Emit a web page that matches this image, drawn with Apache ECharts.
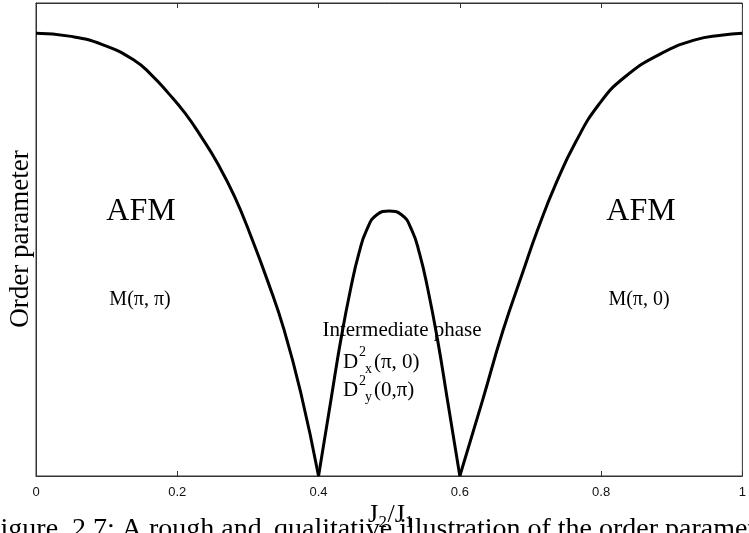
<!DOCTYPE html>
<html>
<head>
<meta charset="utf-8">
<script src="https://cdn.jsdelivr.net/npm/echarts@6/dist/echarts.min.js"></script>
<style>
html,body{margin:0;padding:0;background:#fff;}
#c{width:749px;height:533px;}
</style>
</head>
<body>
<div id="c"></div>
<script>
// J2/J1 values and order parameter
const xLeft  = [0, 0.047, 0.094, 0.140, 0.164, 0.187, 0.211, 0.234, 0.257, 0.281, 0.304, 0.328, 0.351, 0.375, 0.400];
const yLeft  = [0.936, 0.930, 0.912, 0.878, 0.847, 0.810, 0.767, 0.717, 0.661, 0.591, 0.508, 0.412, 0.310, 0.175, 0];
const xMid   = [0.400, 0.418, 0.432, 0.446, 0.457, 0.468, 0.483, 0.500, 0.517, 0.532, 0.543, 0.554, 0.568, 0.582, 0.600];
const yMid   = [0, 0.165, 0.292, 0.400, 0.470, 0.520, 0.553, 0.560, 0.553, 0.520, 0.470, 0.400, 0.292, 0.165, 0];
const xRight = [0.600, 0.631, 0.661, 0.689, 0.710, 0.736, 0.764, 0.797, 0.834, 0.886, 0.933, 0.970, 1.0];
const yRight = [0, 0.154, 0.307, 0.430, 0.520, 0.618, 0.706, 0.786, 0.844, 0.894, 0.922, 0.932, 0.936];
const xTickLabels = ['0', '0.2', '0.4', '0.6', '0.8', '1'];

const zip = (xs, ys) => xs.map((x, i) => [x, ys[i]]);
const SERIF = '"Liberation Serif", "Times New Roman", serif';

const chart = echarts.init(document.getElementById('c'), null, {renderer: 'canvas'});
const lineSeries = (name, data) => ({
  name, type: 'line', data, xAxisIndex: 0, yAxisIndex: 0,
  symbol: 'none', smooth: 0.5,
  lineStyle: {color: '#000', width: 3},
  silent: true, animation: false
});
const txt = (text, x, y, size, align, extra) => Object.assign({
  type: 'text', x, y, silent: true,
  style: {text, fill: '#000', font: size + 'px ' + SERIF, align: align || 'left', verticalAlign: 'middle'}
}, extra || {});

chart.setOption({
  animation: false,
  backgroundColor: '#fff',
  grid: {left: 36, right: 1, top: 3, bottom: 57, show: true, borderColor: '#333', borderWidth: 1, containLabel: false},
  xAxis: [{
    type: 'value', min: 0, max: 1, interval: 0.2, position: 'bottom',
    axisLine: {show: true, onZero: false, lineStyle: {color: '#333', width: 1}},
    axisTick: {show: true, inside: true, length: 5, lineStyle: {color: '#333'}},
    axisLabel: {show: true, margin: 10, color: '#111', fontSize: 13, fontFamily: '"Liberation Sans", Arial, sans-serif',
      formatter: (v, i) => xTickLabels[i] !== undefined ? xTickLabels[i] : String(v)},
    splitLine: {show: false}
  }, {
    type: 'value', min: 0, max: 1, interval: 0.2, position: 'top',
    axisLine: {show: true, onZero: false, lineStyle: {color: '#333', width: 1}},
    axisTick: {show: true, inside: true, length: 5, lineStyle: {color: '#333'}},
    axisLabel: {show: false}, splitLine: {show: false}
  }],
  yAxis: {
    type: 'value', min: 0, max: 1,
    axisLine: {show: true, onZero: false, lineStyle: {color: '#333', width: 1}},
    axisTick: {show: false}, axisLabel: {show: false}, splitLine: {show: false}
  },
  series: [
    lineSeries('AFM M(π, π)', zip(xLeft, yLeft)),
    lineSeries('Intermediate phase', zip(xMid, yMid)),
    lineSeries('AFM M(π, 0)', zip(xRight, yRight))
  ],
  graphic: [
    txt('Order parameter', 21, 239, 27, 'center', {rotation: Math.PI / 2}),
    txt('AFM', 141, 212, 32, 'center'),
    txt('M(π, π)', 140, 300, 20, 'center'),
    txt('AFM', 641, 212, 32, 'center'),
    txt('M(π, 0)', 639, 300, 20, 'center'),
    txt('Intermediate phase', 402, 330, 21, 'center'),
    txt('D', 343, 362, 21),
    txt('2', 359, 352, 14),
    txt('x', 365, 369, 14),
    txt('(π, 0)', 374, 362, 21),
    txt('D', 343, 390, 21),
    txt('2', 359, 381, 14),
    txt('y', 365, 397, 14),
    txt('(0,π)', 374, 390, 21),
    txt('Figure', -15, 530, 28),
    txt('2.7: A rough and', 72, 530, 28),
    txt('qualitative illustration of the order parameter', 274, 530, 28),
    txt('J', 368, 515, 26),
    txt('2', 378.5, 522.5, 17),
    txt('/J', 387.5, 515, 26),
    txt('1', 405, 522.5, 17)
  ]
});
</script>
</body>
</html>
